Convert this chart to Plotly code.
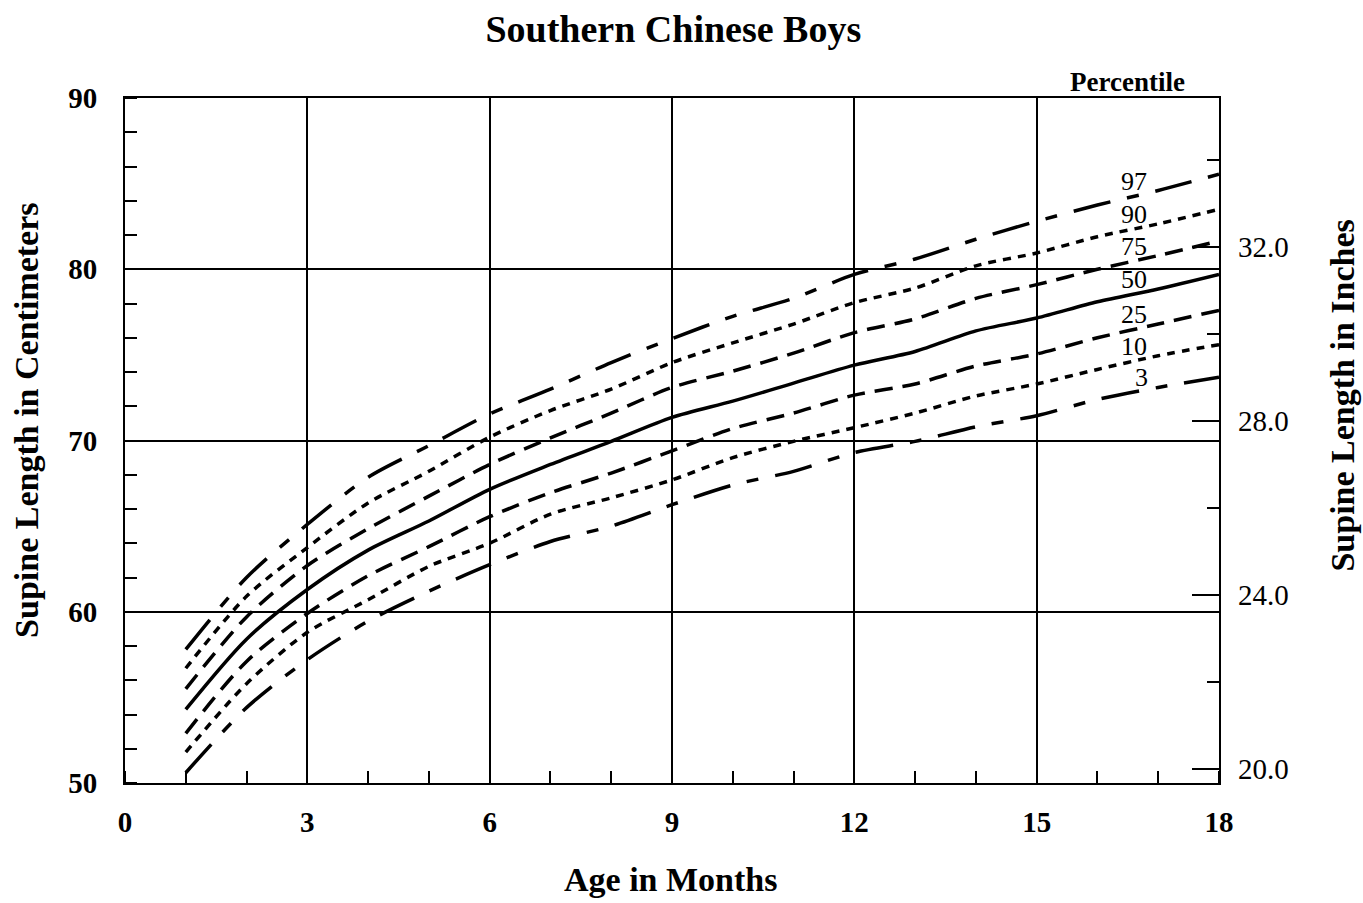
import numpy as np
import plotly.graph_objects as go

# Age in months for each tabulated point
months = list(range(1, 19))

# Supine length (cm) by percentile
p97 = [57.8, 62.0, 65.1, 67.85, 69.7, 71.55, 73.0, 74.55, 75.95, 77.25, 78.3, 79.7, 80.6, 81.75, 82.8, 83.75, 84.6, 85.55]
p90 = [56.7, 60.9, 63.75, 66.35, 68.2, 70.2, 71.75, 73.0, 74.55, 75.7, 76.8, 78.05, 78.9, 80.2, 80.95, 81.9, 82.65, 83.5]
p75 = [55.5, 59.7, 62.7, 64.85, 66.75, 68.6, 70.15, 71.6, 73.1, 74.05, 75.1, 76.3, 77.1, 78.3, 79.1, 80.0, 80.8, 81.65]
p50 = [54.3, 58.4, 61.3, 63.6, 65.3, 67.15, 68.6, 69.95, 71.35, 72.3, 73.35, 74.4, 75.2, 76.4, 77.15, 78.1, 78.85, 79.7]
p25 = [52.9, 57.1, 59.9, 62.1, 63.8, 65.55, 66.95, 68.1, 69.4, 70.7, 71.6, 72.65, 73.3, 74.35, 75.05, 76.0, 76.8, 77.6]
p10 = [51.8, 55.8, 58.8, 60.7, 62.65, 64.0, 65.7, 66.65, 67.7, 69.0, 69.95, 70.75, 71.6, 72.6, 73.3, 74.15, 74.95, 75.6]
p03 = [50.6, 54.4, 57.2, 59.45, 61.2, 62.75, 64.1, 65.0, 66.25, 67.4, 68.2, 69.3, 69.95, 70.8, 71.45, 72.4, 73.1, 73.7]

percentile_labels = ["97", "90", "75", "50", "25", "10", "3"]
series = [p97, p90, p75, p50, p25, p10, p03]

x_ticks = [0, 3, 6, 9, 12, 15, 18]
cm_ticks = [50, 60, 70, 80, 90]
inch_ticks = [20, 24, 28, 32]

CM_PER_INCH = 2.54
FONT = "Liberation Serif"

long_short = "38px,17px,12px,17px"
short_dash = "8px,7px"
medium_dash = "18px,10px"
dashes = [long_short, short_dash, medium_dash, "solid", medium_dash, short_dash, long_short]

fig = go.Figure()

for label, vals, dash in zip(percentile_labels, series, dashes):
    fig.add_trace(go.Scatter(
        x=months, y=vals, mode="lines",
        line=dict(color="black", width=3.5, dash=dash, shape="spline", smoothing=0.8),
        name=label, showlegend=False, hoverinfo="skip",
    ))

# empty trace so the inch axis is drawn
fig.add_trace(go.Scatter(x=[None], y=[None], yaxis="y2", showlegend=False, hoverinfo="skip"))

# percentile labels sit just above each curve
label_x = 16.6
for label, vals in zip(percentile_labels, series):
    yv = float(np.interp(label_x, months, vals)) + 0.85
    fig.add_annotation(
        x=label_x + (0.12 if label == "3" else 0), y=yv, text=label, showarrow=False,
        xref="x", yref="y", font=dict(family=FONT, size=26, color="black"),
        xanchor="center", yanchor="middle",
    )

fig.add_annotation(
    x=0.916, y=1.023, xref="paper", yref="paper", text="<b>Percentile</b>", showarrow=False,
    font=dict(family=FONT, size=27, color="black"), xanchor="center", yanchor="middle",
)

# side titles placed as rotated annotations
fig.add_annotation(
    x=-0.0896, y=0.53, xref="paper", yref="paper", text="<b>Supine Length in Centimeters</b>",
    showarrow=False, textangle=-90, xanchor="center", yanchor="middle",
    font=dict(family=FONT, size=34, color="black"),
)
fig.add_annotation(
    x=1.113, y=0.565, xref="paper", yref="paper", text="<b>Supine Length in Inches</b>",
    showarrow=False, textangle=-90, xanchor="center", yanchor="middle",
    font=dict(family=FONT, size=34, color="black"),
)
fig.add_annotation(
    x=0.499, y=-0.141, xref="paper", yref="paper", text="<b>Age in Months</b>",
    showarrow=False, xanchor="center", yanchor="middle",
    font=dict(family=FONT, size=34, color="black"),
)

fig.update_layout(
    width=1363, height=903,
    margin=dict(l=125, r=144, t=98, b=120, autoexpand=False),
    paper_bgcolor="white", plot_bgcolor="white",
    title=dict(
        text="<b>Southern Chinese Boys</b>", x=0.494, xanchor="center", y=0.968, yanchor="middle",
        font=dict(family=FONT, size=38, color="black"),
    ),
    xaxis=dict(
        range=[0, 18], tickvals=x_ticks, ticktext=[f"<b>{v}</b>" for v in x_ticks],
        showgrid=True, gridcolor="black", gridwidth=2,
        showline=True, linecolor="black", linewidth=2, mirror=True,
        ticks="", zeroline=False, ticklabelstandoff=12, automargin=False,
        minor=dict(dtick=1, tick0=0, ticks="inside", ticklen=12, tickwidth=2, tickcolor="black", showgrid=False),
        tickfont=dict(family=FONT, size=29, color="black"),
    ),
    yaxis=dict(
        range=[50, 90], tickvals=cm_ticks, ticktext=[f"<b>{v}</b>" for v in cm_ticks],
        showgrid=True, gridcolor="black", gridwidth=2,
        showline=True, linecolor="black", linewidth=2, mirror=True,
        ticks="", zeroline=False, ticklabelstandoff=20, automargin=False,
        minor=dict(dtick=2, tick0=0, ticks="inside", ticklen=12, tickwidth=2, tickcolor="black", showgrid=False),
        tickfont=dict(family=FONT, size=29, color="black"),
    ),
    yaxis2=dict(
        overlaying="y", side="right",
        range=[50 / CM_PER_INCH, 90 / CM_PER_INCH],
        tickvals=inch_ticks, ticktext=[f"{v:.1f}" for v in inch_ticks],
        ticks="inside", ticklen=27, tickwidth=2, tickcolor="black",
        showgrid=False, zeroline=False, showline=False, ticklabelstandoff=18, automargin=False,
        minor=dict(dtick=2, tick0=0, ticks="inside", ticklen=12, tickwidth=2, tickcolor="black", showgrid=False),
        tickfont=dict(family=FONT, size=29, color="black"),
    ),
)

fig.write_html("out.html")
